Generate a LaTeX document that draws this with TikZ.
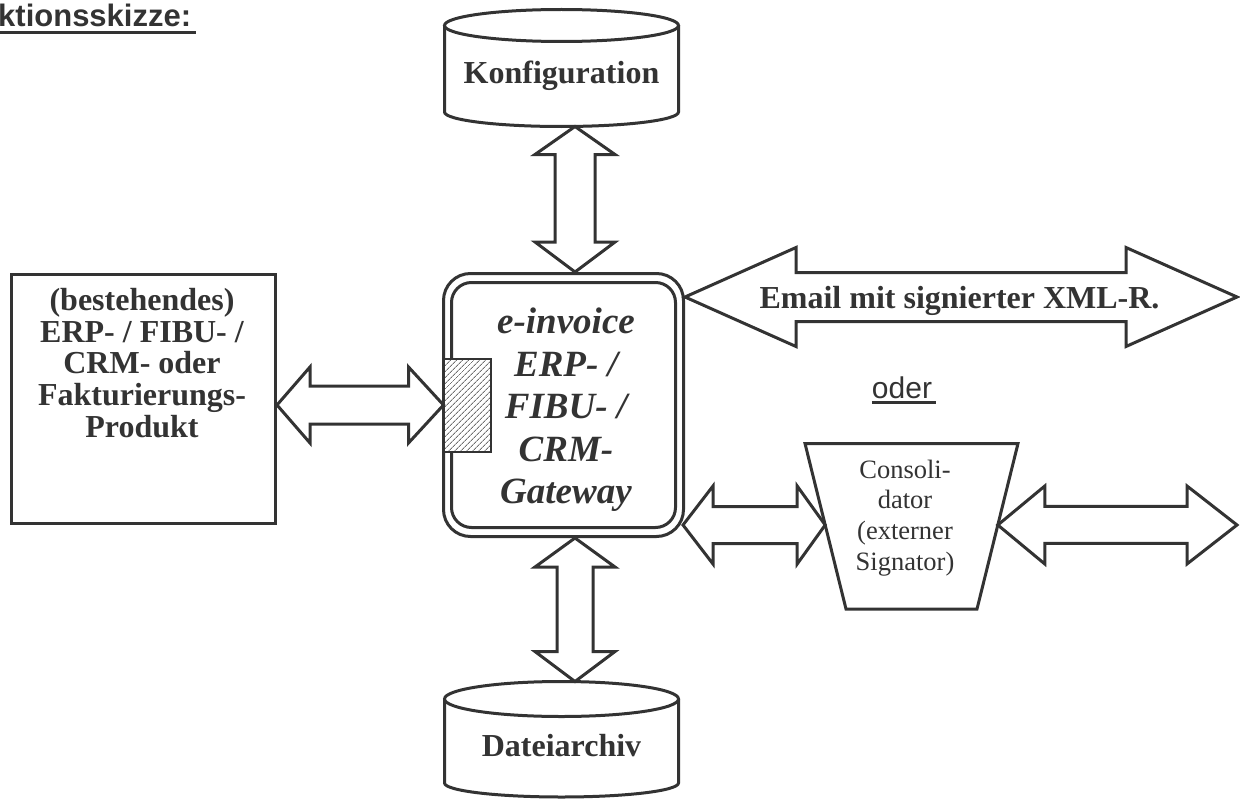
\documentclass[tikz,border=0pt]{standalone}
\usepackage{fontspec}
\setmainfont{Liberation Serif}
\newfontfamily\arialfont{Liberation Sans}
\usetikzlibrary{calc,patterns.meta}
\definecolor{ink}{HTML}{333333}
% horizontal fat double arrow: #1 left tip, #2 right tip, #3 left head length, #4 right head length, #5 head half width, #6 shaft half width
\newcommand{\harrow}[6]{%
  \draw[fat] let \p1=(#1), \p2=(#2) in
    (\x1,\y1) -- (\x1+#3pt,\y1+#5pt) -- (\x1+#3pt,\y1+#6pt) -- (\x2-#4pt,\y1+#6pt) -- (\x2-#4pt,\y1+#5pt)
    -- (\x2,\y1) -- (\x2-#4pt,\y1-#5pt) -- (\x2-#4pt,\y1-#6pt) -- (\x1+#3pt,\y1-#6pt) -- (\x1+#3pt,\y1-#5pt) -- cycle;}
% vertical fat double arrow: #1 top tip, #2 bottom tip
\newcommand{\varrow}[6]{%
  \draw[fat] let \p1=(#1), \p2=(#2) in
    (\x1,\y1) -- (\x1+#5pt,\y1-#3pt) -- (\x1+#6pt,\y1-#3pt) -- (\x1+#6pt,\y2+#4pt) -- (\x1+#5pt,\y2+#4pt)
    -- (\x1,\y2) -- (\x1-#5pt,\y2+#4pt) -- (\x1-#6pt,\y2+#4pt) -- (\x1-#6pt,\y1-#3pt) -- (\x1-#5pt,\y1-#3pt) -- cycle;}
\begin{document}
\begin{tikzpicture}[x=1pt,y=-1pt,
  box/.style={draw=ink, line width=3pt, inner sep=0pt},
  fat/.style={draw=ink, line width=3pt, fill=white, line join=miter, miter limit=10},
  lbl/.style={text=ink, inner sep=0pt, align=center},
  boldtext/.style={font=\bfseries\fontsize{32}{32}\selectfont}]
\useasboundingbox (0,0) rectangle (1240,800);

% title
\node[lbl, anchor=base west, font=\arialfont\bfseries\fontsize{31}{31}\selectfont] (title) at (-2,27) {ktionsskizze:};
\draw[ink, line width=3pt] ([yshift=-5.5pt]title.base west) -- ([yshift=-5.5pt,xshift=5pt]title.base east);

% main nodes
\node[box, minimum width=264, minimum height=249] (erp) at (143.5,399) {};
\node[box, rounded corners=27pt, minimum width=240, minimum height=263] (gw) at (563.5,405) {};
\node[box, rounded corners=20pt, minimum width=224, minimum height=245] (gwi) at (gw.center) {};

% cylinders
\draw[fat] (444.5,25.5) -- (444.5,112) arc[start angle=180, end angle=0, x radius=117, y radius=14.5] -- (678.5,25.5);
\draw[fat] (561.5,25.5) ellipse[x radius=117, y radius=16];
\coordinate (konfbot) at (561.5,126.5);
\node[lbl, anchor=base, boldtext] (konf) at (561.5,84) {Konfiguration};

\draw[fat] (444.5,699) -- (444.5,783) arc[start angle=180, end angle=0, x radius=117, y radius=14] -- (678.5,699);
\draw[fat] (561.5,699) ellipse[x radius=117, y radius=17.5];
\coordinate (archtop) at (561.5,681.5);
\node[lbl, anchor=base, boldtext] (arch) at (561.5,756) {Dateiarchiv};

% consolidator trapezoid
\coordinate (c1) at (805,443.5);
\coordinate (c2) at (1018,443.5);
\coordinate (c3) at (977,609);
\coordinate (c4) at (846,609);
\draw[fat] (c1) -- (c2) -- (c3) -- (c4) -- cycle;
\node[lbl, font=\fontsize{26.5}{30.7}\selectfont] (cons) at (905,518) {Consoli-\\dator\\(externer\\Signator)};
\coordinate (consL) at ($(c1)!0.4924!(c4)$);
\coordinate (consR) at ($(c2)!0.4924!(c3)$);

% hatched interface
\node[draw=ink, line width=2pt, minimum width=47, minimum height=93, preaction={fill=white},
      pattern={Lines[angle=45,distance=4pt,line width=1pt]}, pattern color=ink!70] (hatch) at (467.5,405) {};

% gateway text
\node[lbl, font=\bfseries\itshape\fontsize{37}{42.5}\selectfont] (gwt) at (566,410) {e-invoice\\ERP- /\\FIBU- /\\CRM-\\Gateway};

% left box text
\node[lbl, font=\bfseries\fontsize{32}{31.8}\selectfont] (erpt) at (142,363) {(bestehendes)\\ERP- / FIBU- /\\CRM- oder\\Fakturierungs-\\Produkt};

% connectors (fat double arrows)
\coordinate (gwtop) at ([xshift=11.5pt]gw.north);
\coordinate (gwbot) at ([xshift=11.5pt]gw.south);
\coordinate (konfa) at (gwtop |- konfbot);
\coordinate (archa) at (gwbot |- archtop);
\varrow{konfa}{gwtop}{28}{30}{40}{20}
\varrow{gwbot}{archa}{29}{30}{40}{18}
\harrow{erp.east |- hatch.west}{hatch.west}{33}{35}{38}{19}

\coordinate (mailL) at ([yshift=108pt]gw.east);
\coordinate (mailR) at (1237,297);
\harrow{mailL}{mailR}{111}{111}{49.5}{24.5}
\node[lbl, anchor=base, boldtext] (mail) at (959.5,308) {Email mit signierter XML-R.};

\coordinate (gwse) at ([yshift=-120pt,xshift=-2pt]gw.east);
\harrow{gwse}{consL}{30}{28}{39}{18.5}
\coordinate (outR) at (1237,525);
\harrow{consR}{outR}{47}{50}{39}{18.5}

% oder
\node[lbl, anchor=base, font=\arialfont\fontsize{30}{30}\selectfont] (oder) at (902,398) {oder};
\draw[ink, line width=2.5pt] ([yshift=-4.3pt]oder.base west) -- ([yshift=-4.3pt,xshift=4pt]oder.base east);
\end{tikzpicture}
\end{document}
